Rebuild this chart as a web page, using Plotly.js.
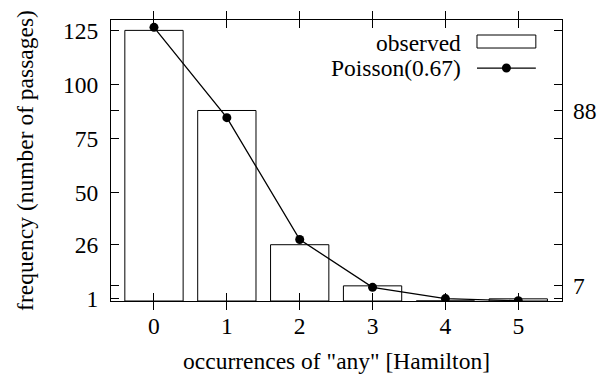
<!DOCTYPE html>
<html>
<head>
<meta charset="utf-8">
<script src="https://cdn.plot.ly/plotly-3.0.1.min.js"></script>
<style>html,body{margin:0;padding:0;background:#fff;}</style>
</head>
<body>
<div id="chart" style="width:599px;height:375px"></div>
<script>
const categories = [0, 1, 2, 3, 4, 5];
const observed = [125, 88, 26, 7, 0, 1];
const poisson = [126.4, 84.7, 28.4, 6.3, 1.1, 0.1];
const yTickVals = [1, 7, 26, 50, 75, 88, 100, 125];
const yTickText = ['1', '', '26', '50', '75', '', '100', '125'];
const y2TickVals = [7, 88];
const y2TickText = ['7', '88'];
const legendLabels = ['observed', 'Poisson(0.67)'];

const FONT = 'Liberation Serif';
const FS = 23.5;
const fnt = {family: FONT, size: FS, color: '#000000'};

const traces = [
  {
    type: 'bar', x: categories, y: observed, width: 0.8,
    marker: {color: '#ffffff', line: {color: '#000000', width: 1}},
    showlegend: false, hoverinfo: 'skip'
  },
  {
    type: 'scatter', mode: 'lines+markers', x: categories, y: poisson,
    line: {color: '#000000', width: 1.3},
    marker: {color: '#000000', size: 9},
    showlegend: false, hoverinfo: 'skip'
  },
  {
    type: 'scatter', mode: 'markers', x: [categories[0]], y: [observed[0]], yaxis: 'y2',
    marker: {opacity: 0}, showlegend: false, hoverinfo: 'skip'
  }
];

const lx0 = 0.8115, lx1 = 0.942;
const layout = {
  width: 599, height: 375,
  margin: {l: 111, r: 37, t: 20, b: 74},
  paper_bgcolor: '#ffffff', plot_bgcolor: '#ffffff',
  font: fnt,
  showlegend: false,
  xaxis: {
    range: [-0.59, 5.6], tickmode: 'array', tickvals: categories, ticktext: categories.map(String),
    ticks: 'inside', ticklen: 8, tickcolor: '#000', tickwidth: 1,
    mirror: 'allticks', showline: true, linecolor: '#000', linewidth: 1,
    showgrid: false, zeroline: false, ticklabelstandoff: 4,
    title: {text: 'occurrences of "any" [Hamilton]', font: fnt, standoff: 14},
    tickfont: fnt
  },
  yaxis: {
    range: [0, 129.8], tickmode: 'array', tickvals: yTickVals, ticktext: yTickText,
    ticks: 'inside', ticklen: 8, tickcolor: '#000', tickwidth: 1,
    mirror: 'allticks', showline: true, linecolor: '#000', linewidth: 1,
    showgrid: false, zeroline: false, ticklabelstandoff: 7,
    title: {text: 'frequency (number of passages)', font: fnt, standoff: 22},
    tickfont: fnt
  },
  yaxis2: {
    overlaying: 'y', side: 'right', range: [0, 129.8],
    tickmode: 'array', tickvals: y2TickVals, ticktext: y2TickText,
    ticks: '', ticklabelstandoff: 10, showline: false, showgrid: false, zeroline: false,
    tickfont: fnt
  },
  annotations: [
    {xref: 'paper', yref: 'paper', x: 0.780, y: 0.918, xanchor: 'right', yanchor: 'middle',
     text: legendLabels[0], showarrow: false, font: fnt},
    {xref: 'paper', yref: 'paper', x: 0.780, y: 0.829, xanchor: 'right', yanchor: 'middle',
     text: legendLabels[1], showarrow: false, font: fnt}
  ],
  shapes: [
    {type: 'rect', xref: 'paper', yref: 'paper', x0: lx0, x1: lx1, y0: 0.9003, y1: 0.9466,
     line: {color: '#000', width: 1}, fillcolor: '#fff'},
    {type: 'line', xref: 'paper', yref: 'paper', x0: lx0, x1: lx1, y0: 0.829, y1: 0.829,
     line: {color: '#000', width: 1.3}},
    {type: 'circle', xref: 'paper', yref: 'paper', xsizemode: 'pixel', ysizemode: 'pixel',
     xanchor: (lx0 + lx1) / 2, yanchor: 0.829, x0: -4.5, x1: 4.5, y0: -4.5, y1: 4.5,
     line: {color: '#000', width: 0}, fillcolor: '#000'}
  ]
};

Plotly.newPlot('chart', traces, layout, {displayModeBar: false});
</script>
</body>
</html>
